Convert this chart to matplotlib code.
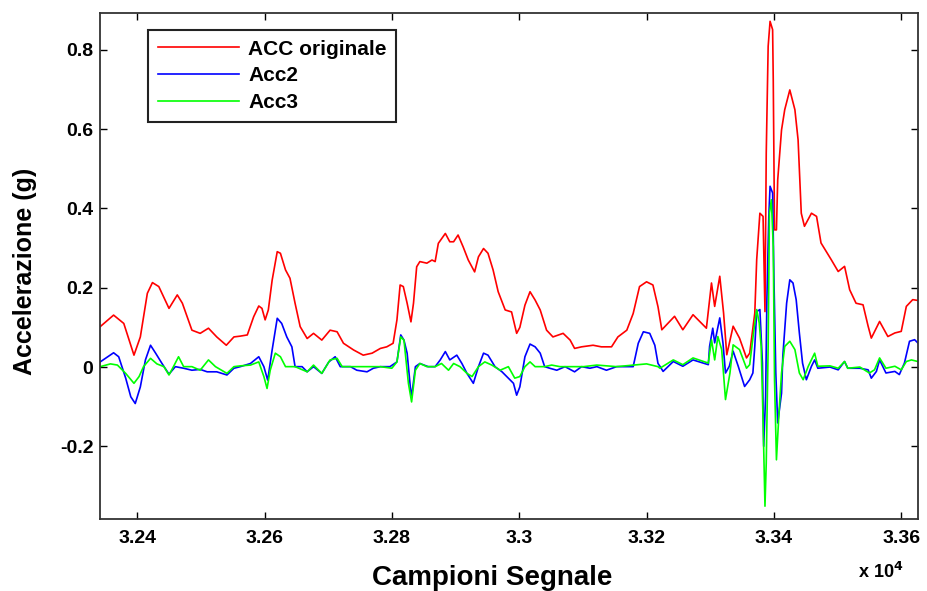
import matplotlib
matplotlib.use("Agg")
import matplotlib.pyplot as plt

plt.rcParams['font.family'] = ['Liberation Sans', 'DejaVu Sans']

# Campioni (sample index) and acceleration (g)
red_x = [32342, 32363, 32379, 32395, 32405, 32416, 32424, 32434, 32450, 32463, 32471, 32486, 32499, 32512, 32525, 32540, 32552, 32562,
         32573, 32583, 32591, 32596, 32601, 32606, 32612, 32620, 32625, 32633, 32640, 32648, 32656, 32667, 32677, 32690, 32703, 32714, 32724, 32740, 32755, 32769, 32782,
         32792, 32802, 32808, 32813, 32818, 32824, 32830, 32834, 32839, 32844, 32855, 32863, 32868, 32873, 32884, 32891, 32897, 32904, 32912, 32920, 32930, 32936, 32944, 32951, 32959, 32967, 32978, 32988, 32996, 33001,
         33009, 33017, 33025, 33033, 33043, 33053, 33069, 33080, 33087, 33098, 33116, 33129, 33145, 33155, 33169, 33179, 33189, 33200, 33210, 33218,
         33224, 33244, 33257, 33273, 33294, 33302, 33307, 33315, 33321, 33326, 33336, 33346, 33357, 33362,
         33370, 33373, 33378, 33383, 33386, 33388, 33391, 33394, 33398, 33399, 33401, 33404, 33406, 33412, 33417, 33425, 33433, 33438, 33443, 33448, 33459, 33467, 33474, 33490, 33501,
         33511, 33519, 33529, 33540, 33548, 33553, 33566, 33579, 33590, 33600, 33608, 33618, 33626]
red_y = [0.102, 0.131, 0.110, 0.030, 0.076, 0.186, 0.213, 0.203, 0.148, 0.182, 0.161, 0.093, 0.085, 0.098, 0.076, 0.055, 0.076, 0.078,
         0.081, 0.127, 0.154, 0.148, 0.119, 0.144, 0.219, 0.291, 0.287, 0.245, 0.224, 0.161, 0.102, 0.072, 0.085, 0.068, 0.093, 0.089, 0.060, 0.043, 0.030, 0.035, 0.047,
         0.051, 0.060, 0.119, 0.207, 0.203, 0.161, 0.114, 0.161, 0.253, 0.266, 0.262, 0.270, 0.266, 0.312, 0.337, 0.316, 0.316, 0.333, 0.303, 0.270, 0.240, 0.278, 0.299, 0.287, 0.245, 0.190, 0.144, 0.139, 0.085, 0.100,
         0.156, 0.190, 0.169, 0.144, 0.093, 0.076, 0.085, 0.068, 0.047, 0.051, 0.055, 0.051, 0.051, 0.076, 0.093, 0.135, 0.203, 0.215, 0.207, 0.152,
         0.094, 0.128, 0.094, 0.132, 0.098, 0.212, 0.153, 0.229, 0.136, 0.031, 0.103, 0.073, 0.023, 0.035,
         0.136, 0.271, 0.388, 0.380, 0.140, 0.540, 0.809, 0.872, 0.851, 0.725, 0.346, 0.346, 0.472, 0.598, 0.649, 0.699, 0.649, 0.573, 0.388, 0.355, 0.388, 0.380, 0.313, 0.271, 0.241,
         0.254, 0.195, 0.161, 0.157, 0.103, 0.073, 0.115, 0.077, 0.086, 0.090, 0.153, 0.170, 0.168]

blue_x = [32342, 32363, 32371, 32382, 32390, 32397, 32405, 32413, 32421, 32429, 32439, 32450, 32460, 32473, 32486, 32499, 32510, 32525, 32541, 32552, 32562,
          32578, 32591, 32599, 32605, 32612, 32620, 32627, 32635, 32643, 32648, 32659, 32667, 32677, 32690, 32701, 32711, 32719, 32735, 32745, 32761, 32771, 32782,
          32797, 32808, 32814, 32819, 32824, 32829, 32831, 32837, 32844, 32857, 32868, 32876, 32884, 32891, 32902, 32910, 32918, 32928, 32936, 32944, 32951, 32962, 32973, 32983, 32991, 32996, 33001,
          33009, 33017, 33025, 33033, 33040, 33048, 33059, 33072, 33087, 33098, 33111, 33122, 33137, 33153, 33179, 33187, 33195, 33205, 33213, 33218,
          33221, 33226, 33242, 33257, 33273, 33297, 33299, 33304, 33307, 33315, 33320, 33324, 33330, 33336, 33344, 33354, 33362,
          33367, 33370, 33373, 33378, 33382, 33384, 33387, 33389, 33392, 33394, 33398, 33400, 33403, 33406, 33412, 33414, 33420, 33425, 33430, 33435, 33440, 33445, 33451, 33459, 33464, 33469, 33488, 33501,
          33511, 33516, 33535, 33548, 33553, 33561, 33566, 33576, 33590, 33597, 33605, 33613, 33621, 33626]
blue_y = [0.013, 0.036, 0.026, -0.028, -0.075, -0.092, -0.050, 0.018, 0.055, 0.035, 0.009, -0.018, 0.001, -0.003, -0.008, -0.006, -0.012, -0.012, -0.020, -0.003, 0.001,
          0.009, 0.026, 0.001, -0.033, 0.043, 0.123, 0.110, 0.076, 0.051, 0.001, 0.001, -0.012, 0.001, -0.016, 0.013, 0.026, 0.001, 0.001, -0.008, -0.012, -0.003, 0.001,
          0.001, 0.013, 0.081, 0.068, 0.035, -0.050, -0.075, 0.001, 0.009, 0.001, 0.001, 0.018, 0.039, 0.018, 0.030, 0.009, -0.016, -0.041, 0.001, 0.035, 0.030, 0.001, -0.012, -0.028, -0.041, -0.071, -0.050,
          0.026, 0.058, 0.051, 0.035, 0.001, -0.003, -0.008, 0.001, -0.012, 0.001, -0.003, 0.001, -0.008, 0.001, 0.001, 0.060, 0.089, 0.085, 0.055, 0.009,
          0.002, -0.011, 0.014, 0.002, 0.018, 0.006, 0.052, 0.098, 0.061, 0.124, 0.061, -0.015, 0.002, 0.040, 0.002, -0.049, -0.032,
          -0.015, 0.052, 0.140, 0.145, 0.010, -0.200, -0.074, 0.170, 0.380, 0.456, 0.439, 0.229, -0.015, -0.141, -0.066, 0.027, 0.161, 0.220, 0.212, 0.170, 0.086, 0.010, -0.032, 0.002, 0.018, -0.003, 0.000, -0.007,
          0.014, -0.003, -0.003, -0.007, -0.028, -0.011, 0.018, -0.015, -0.011, -0.019, 0.010, 0.065, 0.069, 0.061]

green_x = [32342, 32358, 32369, 32382, 32395, 32403, 32410, 32421, 32431, 32442, 32450, 32457, 32465, 32473, 32486, 32499, 32512, 32523, 32541, 32552, 32562,
           32578, 32591, 32599, 32604, 32609, 32617, 32625, 32633, 32648, 32667, 32677, 32690, 32703, 32714, 32722, 32782,
           32800, 32808, 32814, 32819, 32826, 32831, 32837, 32844, 32855, 32868, 32878, 32889, 32897, 32907, 32918, 32926, 32936, 32946, 32957, 32970, 32983, 32993, 33001,
           33009, 33017, 33025, 33040, 33051, 33064, 33085, 33101, 33122, 33153, 33200, 33218,
           33221, 33242, 33257, 33273, 33297, 33302, 33307, 33312, 33318, 33324, 33331, 33336, 33346, 33357, 33362,
           33368, 33373, 33377, 33380, 33383, 33386, 33388, 33391, 33393, 33396, 33399, 33401, 33404, 33408, 33412, 33417, 33425, 33433, 33440, 33446, 33454, 33464, 33469, 33488, 33501,
           33511, 33516, 33535, 33550, 33558, 33566, 33576, 33590, 33600, 33608, 33616, 33626]
green_y = [0.001, 0.008, 0.005, -0.016, -0.041, -0.024, 0.001, 0.022, 0.008, 0.001, -0.020, 0.001, 0.026, 0.001, 0.001, -0.008, 0.018, 0.001, -0.016, 0.001, 0.003,
           0.005, 0.013, -0.024, -0.054, -0.008, 0.035, 0.026, 0.001, 0.001, -0.012, 0.005, -0.016, 0.018, 0.022, 0.001, 0.001,
           -0.003, 0.013, 0.076, 0.068, -0.041, -0.088, -0.008, 0.009, 0.001, 0.001, 0.009, -0.008, 0.009, 0.001, -0.016, -0.024, 0.001, 0.013, 0.005, -0.008, 0.001, -0.028, -0.024,
           0.001, 0.013, 0.001, 0.001, 0.005, 0.001, 0.001, 0.001, 0.005, 0.001, 0.008, 0.001,
           -0.003, 0.018, 0.006, 0.023, 0.010, 0.069, 0.018, 0.077, 0.044, -0.082, -0.015, 0.056, 0.044, -0.003, 0.006,
           0.086, 0.145, 0.111, 0.052, -0.133, -0.351, -0.242, 0.052, 0.388, 0.422, 0.304, -0.032, -0.234, -0.116, -0.015, 0.052, 0.065, 0.044, -0.015, -0.032, 0.002, 0.035, 0.002, 0.003, -0.003,
           0.014, -0.003, 0.000, -0.015, -0.007, 0.023, -0.003, 0.002, -0.007, 0.014, 0.018, 0.014]

series_names = ['ACC originale', 'Acc2', 'Acc3']
xticks = [32400, 32600, 32800, 33000, 33200, 33400, 33600]
xtick_labels = ['3.24', '3.26', '3.28', '3.3', '3.32', '3.34', '3.36']
yticks = [-0.2, 0, 0.2, 0.4, 0.6, 0.8]
ytick_labels = ['-0.2', '0', '0.2', '0.4', '0.6', '0.8']

fig = plt.figure(figsize=(9.28, 5.91), dpi=100)
ax = fig.add_axes([0.108, 0.122, 0.881, 0.856])

ax.plot(red_x, red_y, color='#ff0000', lw=1.2, label=series_names[0])
ax.plot(blue_x, blue_y, color='#0000ff', lw=1.2, label=series_names[1])
ax.plot(green_x, green_y, color='#00ff00', lw=1.2, label=series_names[2])

ax.set_xlim(32342, 33626)
ax.set_ylim(-0.383, 0.893)
ax.set_xticks(xticks)
ax.set_xticklabels(xtick_labels, fontsize=14, fontweight='bold')
ax.set_yticks(yticks)
ax.set_yticklabels(ytick_labels, fontsize=14, fontweight='bold')
ax.tick_params(direction='in', length=5, width=1, top=True, right=True)
ax.tick_params(axis='y', pad=5)
ax.tick_params(axis='x', pad=8)
for s in ax.spines.values():
    s.set_linewidth(1.3)
    s.set_color('#333333')

ax.set_xlabel('Campioni Segnale', fontsize=20, fontweight='bold')
ax.xaxis.set_label_coords(0.479, -0.092)
ax.set_ylabel('Accelerazione (g)', fontsize=18, fontweight='bold')
ax.yaxis.set_label_coords(-0.077, 0.49)
fig.text(0.925, 0.022, r'x 10$^{\mathbf{4}}$', fontsize=13, fontweight='bold')

leg = ax.legend(loc='upper left', bbox_to_anchor=(0.059, 0.966), fancybox=False,
                edgecolor='#222222', framealpha=1, handlelength=3.9, handletextpad=0.45,
                labelspacing=0.38, borderpad=0.45, borderaxespad=0,
                prop={'size': 15, 'weight': 'bold'})
leg.get_frame().set_linewidth(1.5)

fig.savefig('out.png', dpi=100, facecolor='white')
